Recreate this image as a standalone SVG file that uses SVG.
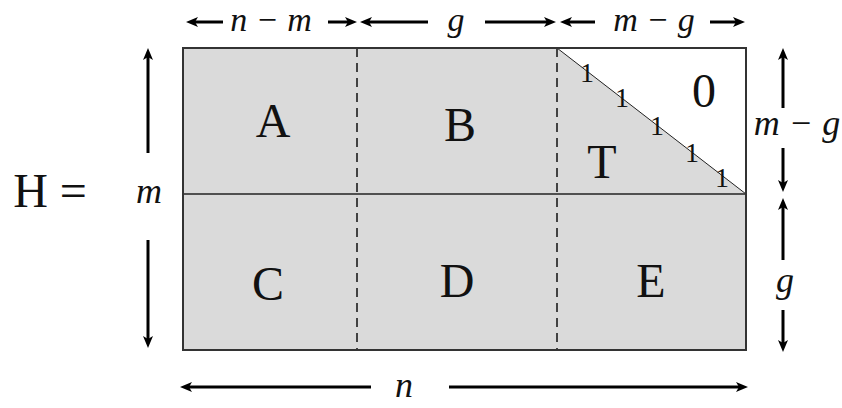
<svg xmlns="http://www.w3.org/2000/svg" width="842" height="408" viewBox="0 0 842 408">
<style>
.rm{font-family:"Liberation Serif","Times New Roman",serif;fill:#111;text-anchor:middle}
.big{font-size:48px}
.one{font-size:28px}
.it{font-family:"Liberation Serif","Times New Roman",serif;font-style:italic;font-size:36px;fill:#111;text-anchor:middle}
.top{font-size:34px}
.arr{stroke:#000;stroke-width:3;fill:none;marker-end:url(#ah)}
.dash{stroke:#111;stroke-width:1.5;stroke-dasharray:9,6;fill:none}
</style>
<defs>
<marker id="ah" viewBox="0 0 12 10" refX="6" refY="5" markerWidth="12" markerHeight="10" markerUnits="userSpaceOnUse" orient="auto">
<path d="M0,0 L12,5 L0,10 L3,5 z" fill="#000"/>
</marker>
</defs>
<rect width="842" height="408" fill="#fff"/>
<g id="matrix">
<rect x="183" y="48" width="563" height="302" fill="#dadada"/>
<polygon points="557,48 746,48 746,194" fill="#fff"/>
<line x1="557" y1="48" x2="746" y2="194" stroke="#222" stroke-width="1"/>
<line x1="183" y1="194" x2="746" y2="194" stroke="#222" stroke-width="1.5"/>
<line class="dash" x1="357" y1="48" x2="357" y2="350"/>
<line class="dash" x1="557" y1="48" x2="557" y2="350"/>
<rect x="183" y="48" width="563" height="302" fill="none" stroke="#333" stroke-width="2"/>
</g>
<g id="H"><text class="rm big" x="50" y="207">H =</text></g>
<g id="A"><text class="rm big" x="273" y="137">A</text></g>
<g id="B"><text class="rm big" x="460" y="141">B</text></g>
<g id="C"><text class="rm big" x="268" y="300">C</text></g>
<g id="D"><text class="rm big" x="457" y="297">D</text></g>
<g id="E"><text class="rm big" x="651" y="297">E</text></g>
<g id="T"><text class="rm big" x="602" y="178">T</text></g>
<g id="zero"><text class="rm big" x="704" y="107">0</text></g>
<g id="ones" class="rm one">
<text x="587" y="82">1</text>
<text x="622" y="107">1</text>
<text x="657" y="135">1</text>
<text x="692" y="162">1</text>
<text x="722" y="187">1</text>
</g>
<g id="labels">
<text class="it top" x="271" y="31">n − m</text>
<text class="it top" x="456" y="31">g</text>
<text class="it top" x="654" y="31">m − g</text>
<text class="it" x="149" y="203">m</text>
<text class="it" x="797" y="135">m − g</text>
<text class="it" x="785" y="292">g</text>
<text class="it" x="404" y="397">n</text>
</g>
<g id="connectors">
<line class="arr" x1="223" y1="22" x2="192" y2="22"/>
<line class="arr" x1="328" y1="22" x2="351" y2="22"/>
<line class="arr" x1="428" y1="22" x2="366" y2="22"/>
<line class="arr" x1="485" y1="22" x2="550" y2="22"/>
<line class="arr" x1="595" y1="22" x2="566" y2="22"/>
<line class="arr" x1="710" y1="22" x2="739" y2="22"/>
<line class="arr" x1="148" y1="153" x2="148" y2="54"/>
<line class="arr" x1="148" y1="240" x2="148" y2="342"/>
<line class="arr" x1="783" y1="108" x2="783" y2="54"/>
<line class="arr" x1="783" y1="148" x2="783" y2="186"/>
<line class="arr" x1="783" y1="260" x2="783" y2="204"/>
<line class="arr" x1="783" y1="310" x2="783" y2="346"/>
<line class="arr" x1="371" y1="387" x2="186" y2="387"/>
<line class="arr" x1="449" y1="387" x2="742" y2="387"/>
</g>
</svg>
